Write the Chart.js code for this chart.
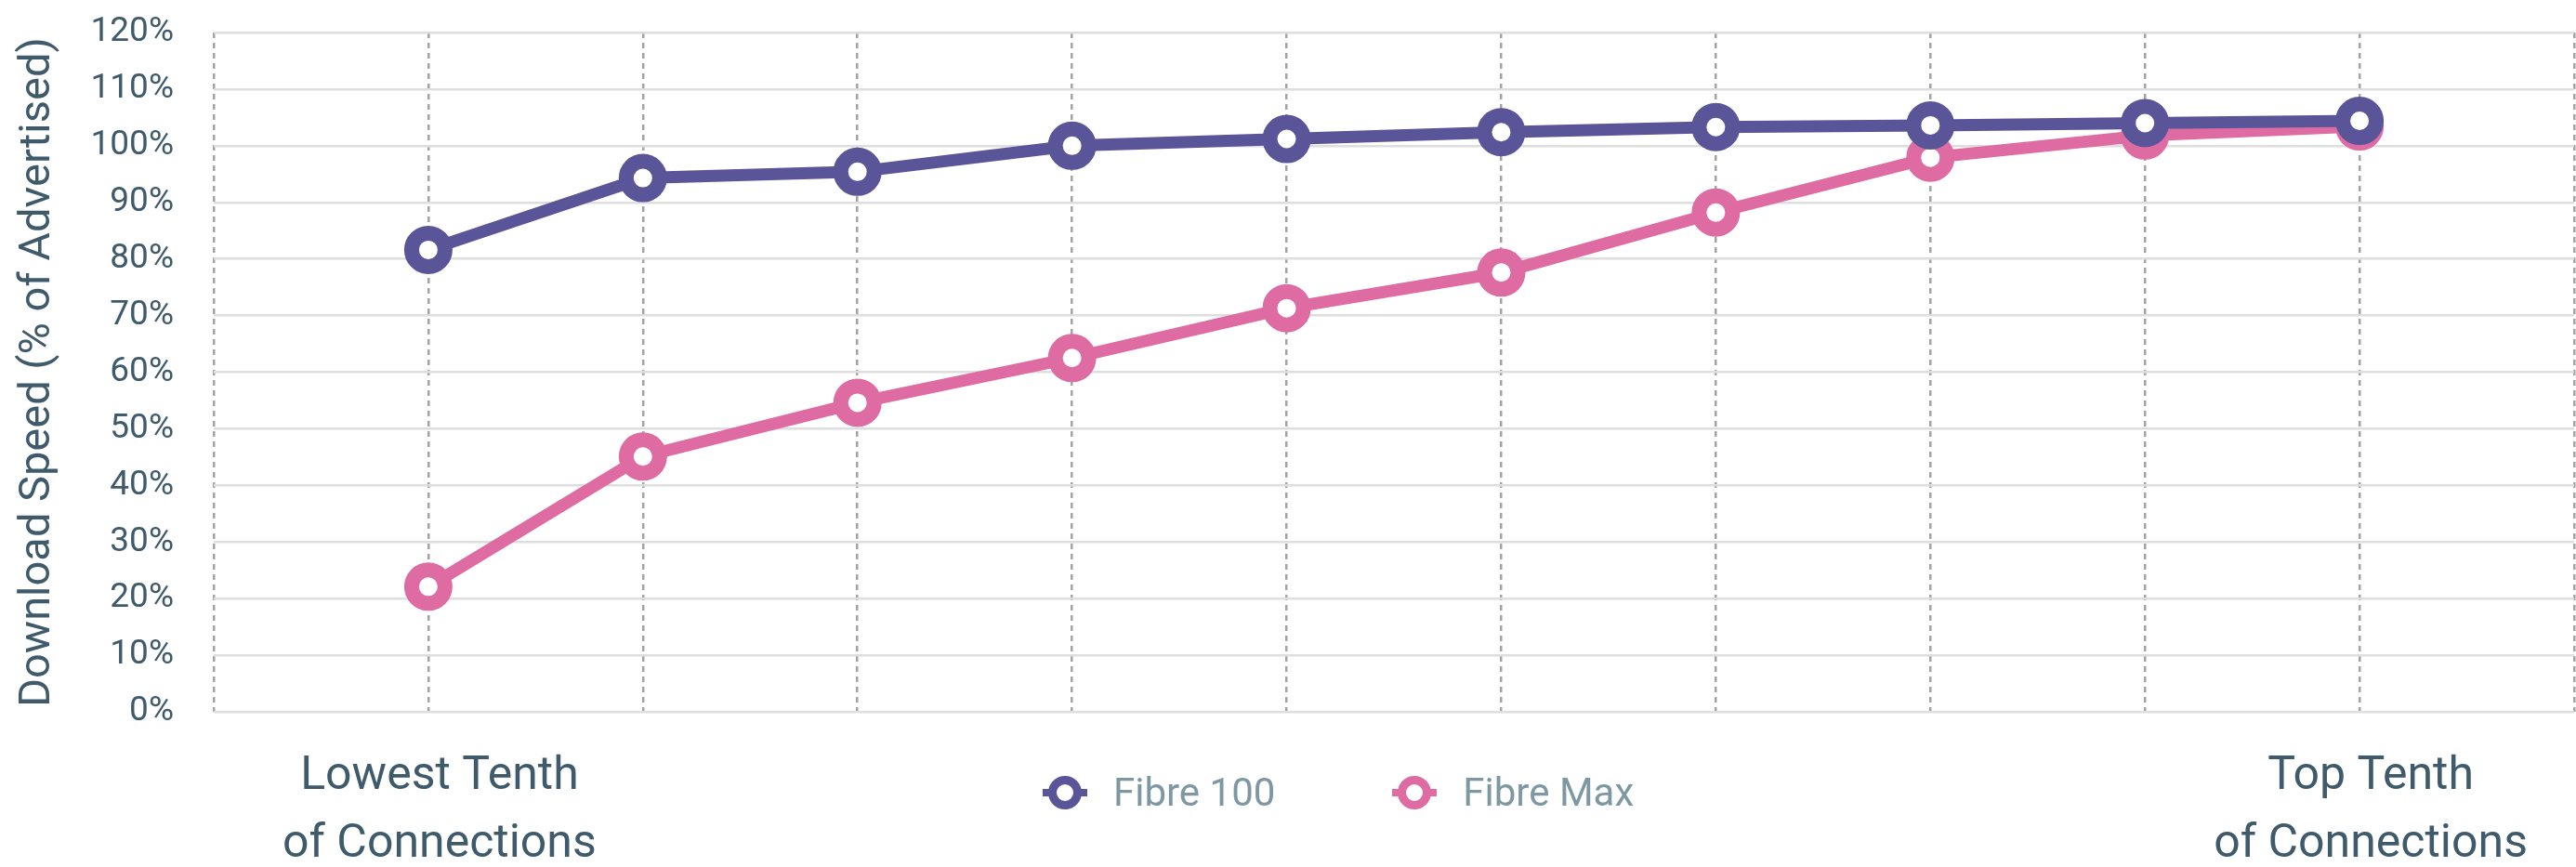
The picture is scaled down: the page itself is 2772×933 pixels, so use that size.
<!DOCTYPE html>
<html lang="en">
<head>
    <meta charset="UTF-8">
    <title>Download Speed by Connection Tenth</title>
    <script src="https://cdn.jsdelivr.net/npm/chart.js"></script>
    <style>
        body {
            margin: 0;
            padding: 0;
            background: #fff;
            font-family: Roboto, Arial, sans-serif;
        }
        .wrap {
            position: relative;
            width: 2772px;
            height: 933px;
        }
        #legend {
            position: absolute;
            left: 1122px;
            top: 828px;
            display: flex;
            align-items: center;
            font-size: 42px;
            color: #7d97a3;
        }
        .item {
            display: flex;
            align-items: center;
            margin-right: 126px;
        }
        .swatch {
            position: relative;
            width: 48px;
            height: 36px;
            margin-right: 28px;
        }
        .swatch::before {
            content: '';
            position: absolute;
            left: 0;
            right: 0;
            top: 14px;
            height: 8px;
            background: var(--c);
        }
        .swatch i {
            position: absolute;
            left: 6px;
            top: 0;
            width: 18px;
            height: 18px;
            border: 9px solid var(--c);
            border-radius: 50%;
            background: #fff;
        }
    </style>
</head>
<body>
    <div class="wrap">
        <canvas id="speedChart" width="2772" height="933"></canvas>
        <div id="legend"></div>
    </div>

    <script>
        // Percent of advertised speed, lowest tenth to top tenth of connections
        const tenths = [
            ['Lowest Tenth', 'of Connections'], '', '', '', '', '', '', '', '',
            ['Top Tenth', 'of Connections']
        ];
        const fibre100 = [81.6, 94.3, 95.4, 100.0, 101.2, 102.4, 103.3, 103.6, 104.0, 104.4];
        const fibreMax = [22.1, 45.1, 54.6, 62.5, 71.3, 77.6, 88.2, 97.9, 101.8, 103.4];
        const seriesNames = ['Fibre 100', 'Fibre Max'];
        const seriesColors = ['#5a5598', '#df6ba3'];

        const textColor = '#3e5a6b';

        // empty slot at each end so the points sit in from the edges
        const labels = ['', ...tenths, ''];
        const pad = arr => [null, ...arr, null];

        const lineStyle = (i) => ({
            label: seriesNames[i],
            borderColor: seriesColors[i],
            backgroundColor: seriesColors[i],
            borderWidth: 13,
            pointRadius: 18,
            pointHoverRadius: 18,
            pointBorderWidth: 16,
            pointHoverBorderWidth: 16,
            pointBackgroundColor: '#fff',
            pointBorderColor: seriesColors[i],
            tension: 0,
            fill: false
        });

        const ctx = document.getElementById('speedChart').getContext('2d');
        const speedChart = new Chart(ctx, {
            type: 'line',
            data: {
                labels: labels,
                datasets: [
                    { ...lineStyle(0), data: pad(fibre100) },
                    { ...lineStyle(1), data: pad(fibreMax) }
                ]
            },
            options: {
                responsive: false,
                animation: false,
                layout: {
                    autoPadding: false,
                    padding: { top: 35, right: 2, left: 0, bottom: 0 }
                },
                plugins: {
                    legend: { display: false },
                    tooltip: { enabled: false }
                },
                scales: {
                    x: {
                        offset: false,
                        // invisible tick marks push the labels down without side padding
                        grid: {
                            color: '#a3a3a3',
                            lineWidth: 2.5,
                            drawTicks: true,
                            tickLength: 34,
                            tickColor: 'rgba(0,0,0,0)'
                        },
                        border: { display: false, dash: [6, 5] },
                        ticks: {
                            autoSkip: false,
                            maxRotation: 0,
                            padding: 0,
                            labelOffset: 12,
                            color: textColor,
                            font: { family: 'Roboto', size: 50, lineHeight: 1.46 }
                        },
                        afterFit: (scale) => {
                            scale.height = 167;
                            scale.paddingLeft = 0;
                            scale.paddingRight = 0;
                        }
                    },
                    y: {
                        min: 0,
                        max: 120,
                        grid: {
                            color: '#dedede',
                            lineWidth: 2.5,
                            drawTicks: false
                        },
                        border: { display: false },
                        ticks: {
                            stepSize: 10,
                            padding: 43,
                            color: textColor,
                            font: { family: 'Roboto', size: 37 },
                            callback: (v) => v + '%'
                        },
                        title: {
                            display: true,
                            text: 'Download Speed (% of Advertised)',
                            color: textColor,
                            font: { family: 'Roboto', size: 47 },
                            padding: { top: 13, bottom: 0 }
                        },
                        afterFit: (scale) => {
                            scale.width = 230;
                            scale.paddingTop = 0;
                            scale.paddingBottom = 0;
                        }
                    }
                }
            }
        });

        // Legend sits between the two end labels
        const legend = document.getElementById('legend');
        speedChart.data.datasets.forEach(ds => {
            const item = document.createElement('span');
            item.className = 'item';
            item.innerHTML = '<span class="swatch" style="--c:' + ds.borderColor + '"><i></i></span>' + ds.label;
            legend.appendChild(item);
        });
    </script>
</body>
</html>
